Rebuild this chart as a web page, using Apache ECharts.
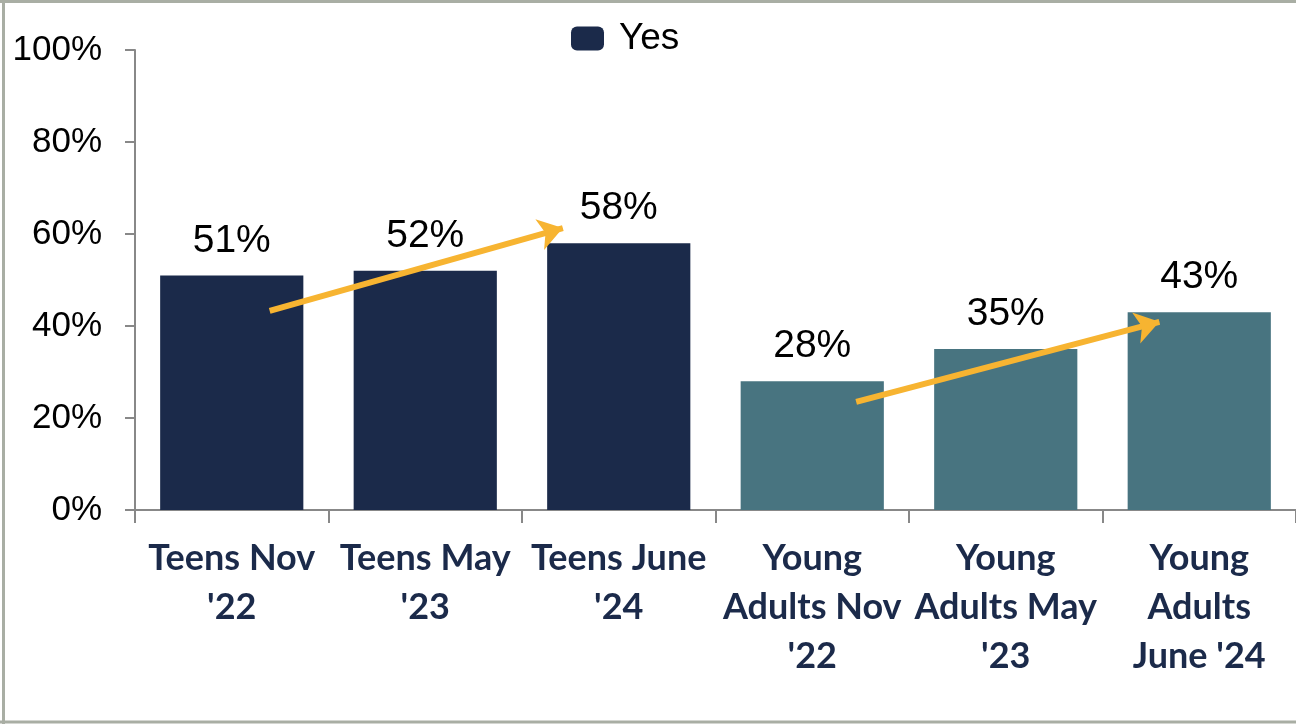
<!DOCTYPE html>
<html>
<head>
<meta charset="utf-8">
<script src="https://cdn.jsdelivr.net/npm/echarts@6/dist/echarts.min.js"></script>
<style>
  html, body { margin: 0; padding: 0; background: #fff; overflow: hidden; }
  #main { width: 1296px; height: 724px; }
</style>
</head>
<body>
<div id="main"></div>
<script>
  // categories / values
  var categories = ["Teens Nov\n'22", "Teens May\n'23", "Teens June\n'24",
                    "Young\nAdults Nov\n'22", "Young\nAdults May\n'23", "Young\nAdults\nJune '24"]
  var yesValues = [51, 52, 58, 28, 35, 43]
  var groupOf = ['teens', 'teens', 'teens', 'young', 'young', 'young']
  var yTicks = [0, 20, 40, 60, 80, 100]
  // trend arrows, in (category index, percent) space
  var arrowStart = [[0.196, 43.3], [3.227, 23.5]]
  var arrowEnd = [[1.711, 61.3], [4.794, 40.9]]

  var colors = { teens: '#1b2a4a', young: '#487480' }
  var frameColor = '#a9aea4'

  var myChart = echarts.init(document.getElementById('main'))

  myChart.setOption({
    animation: false,
    // outer frame (top, left, bottom only - right side is cut off in the original)
    graphic: [
      { type: 'line', shape: { x1: 0, y1: 1.5, x2: 1296, y2: 1.5 }, style: { stroke: frameColor, lineWidth: 3 }, silent: true },
      { type: 'line', shape: { x1: 3.5, y1: 0, x2: 3.5, y2: 724 }, style: { stroke: frameColor, lineWidth: 3 }, silent: true },
      { type: 'line', shape: { x1: 0, y1: 722, x2: 1296, y2: 722 }, style: { stroke: frameColor, lineWidth: 3 }, silent: true }
    ],
    legend: {
      data: ['Yes'],
      left: 566,
      top: 15,
      itemWidth: 33,
      itemHeight: 24,
      icon: 'roundRect',
      textStyle: { fontFamily: 'Liberation Sans, Arial', fontSize: 37, color: '#000', padding: [0, 0, 0, 10] }
    },
    grid: { left: 135, right: 0, top: 50, bottom: 214, containLabel: false },
    xAxis: [{
      type: 'category',
      data: categories,
      axisLine: { lineStyle: { color: '#888', width: 2 } },
      axisTick: { show: true, length: 13, lineStyle: { color: '#888', width: 2 } },
      axisLabel: {
        interval: 0,
        margin: 24,
        fontFamily: 'Lato, Liberation Sans',
        fontWeight: 'bold',
        fontSize: 36,
        lineHeight: 49,
        color: '#1b2a4a'
      }
    }, {
      type: 'value',
      min: -0.5,
      max: 5.5,
      show: false
    }],
    yAxis: {
      type: 'value',
      min: yTicks[0],
      max: yTicks[yTicks.length - 1],
      interval: 20,
      splitLine: { show: false },
      axisLine: { show: true, onZero: false, lineStyle: { color: '#888', width: 2 } },
      axisTick: { show: true, length: 10, lineStyle: { color: '#888', width: 2 } },
      axisLabel: {
        margin: 33,
        formatter: '{value}%',
        fontFamily: 'Liberation Sans, Arial',
        fontSize: 35,
        color: '#000'
      }
    },
    series: [{
      name: 'Yes',
      type: 'bar',
      barWidth: '74%',
      itemStyle: { color: colors.teens },
      data: yesValues.map(function (v, i) {
        return { value: v, itemStyle: { color: colors[groupOf[i]] } }
      }),
      label: {
        show: true,
        position: 'top',
        distance: 15,
        formatter: '{c}%',
        fontFamily: 'Liberation Sans, Arial',
        fontSize: 39,
        color: '#000'
      },
      z: 2
    }, {
      name: 'trend',
      type: 'lines',
      coordinateSystem: 'cartesian2d',
      xAxisIndex: 1,
      yAxisIndex: 0,
      symbol: ['none', 'arrow'],
      symbolSize: [20, 24],
      lineStyle: { color: '#f7b431', width: 6, opacity: 1 },
      data: arrowStart.map(function (s, i) {
        return { coords: [s, arrowEnd[i]] }
      }),
      z: 5
    }]
  })
</script>
</body>
</html>
